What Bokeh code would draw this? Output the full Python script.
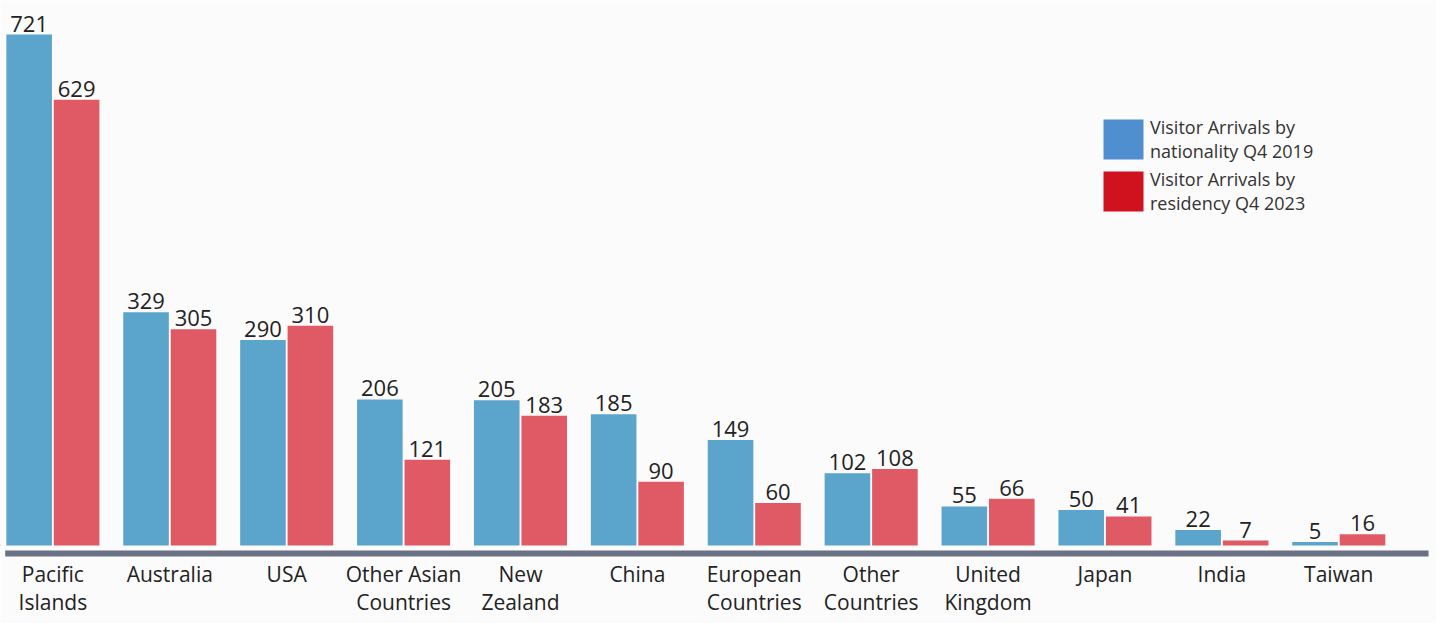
from bokeh.plotting import figure
from bokeh.models import ColumnDataSource, Legend, LegendItem, Range1d
from bokeh.core.properties import value
from bokeh.embed import file_html
from bokeh.resources import INLINE

categories = ["Pacific\nIslands", "Australia", "USA", "Other Asian\nCountries", "New\nZealand",
              "China", "European\nCountries", "Other\nCountries", "United\nKingdom",
              "Japan", "India", "Taiwan"]
q4_2019 = [721, 329, 290, 206, 205, 185, 149, 102, 55, 50, 22, 5]
q4_2023 = [629, 305, 310, 121, 183, 90, 60, 108, 66, 41, 7, 16]
series_names = ["Visitor Arrivals by\nnationality Q4 2019", "Visitor Arrivals by\nresidency Q4 2023"]

FONT = "Open Sans"
BLUE, RED = "#5ba4cb", "#e05a66"
LEG_BLUE, LEG_RED = "#4f8fd0", "#d0121f"
TXT = "#222222"

idx = list(range(len(categories)))
src = ColumnDataSource(dict(
    x1=[i - 0.203 for i in idx], x2=[i + 0.203 for i in idx],
    v1=q4_2019, v2=q4_2023,
    t1=[str(v) for v in q4_2019], t2=[str(v) for v in q4_2023],
))
AXIS_Y = -11.3
cat_src = ColumnDataSource(dict(x=idx, y=[-19.8] * len(idx), t=categories))

X0, X1 = -0.448, 11.836
p = figure(width=1436, height=623, output_backend="svg", toolbar_location=None,
           x_range=Range1d(X0, X1), y_range=Range1d(-110.1, 769.0),
           min_border=0)
p.background_fill_color = "#fbfbfb"
p.border_fill_color = "#fbfbfb"
p.outline_line_color = None
p.grid.visible = False
p.axis.visible = False

p.vbar(x="x1", top="v1", bottom=0, width=0.39, source=src, fill_color=BLUE, line_color=None)
p.vbar(x="x2", top="v2", bottom=0, width=0.39, source=src, fill_color=RED, line_color=None)

for xs, ts, ys in (("x1", "t1", "v1"), ("x2", "t2", "v2")):
    p.text(x=xs, y=ys, text=ts, source=src, text_align="center", text_baseline="bottom",
           y_offset=-3, text_font=value(FONT), text_font_size="22px", text_color=TXT)

# axis line
p.segment(x0=[X0 + 0.04], x1=[11.768], y0=[AXIS_Y], y1=[AXIS_Y],
          line_color="#6b7185", line_width=6)

# category labels
p.text(x="x", y="y", text="t", source=cat_src, text_align="center", text_baseline="top",
       text_font=value(FONT), text_font_size="21px", text_color=TXT, text_line_height=1.0)

d1 = p.vbar(x=[-100], top=[1], width=0.1, fill_color=LEG_BLUE, line_color=None)
d2 = p.vbar(x=[-100], top=[1], width=0.1, fill_color=LEG_RED, line_color=None)
legend = Legend(items=[LegendItem(label=series_names[0], renderers=[d1]),
                       LegendItem(label=series_names[1], renderers=[d2])],
                location=(1098, 407), glyph_width=50, glyph_height=50,
                label_text_font=FONT, label_text_font_size="18px", label_text_color="#333333",
                label_text_line_height=1.17,
                label_standoff=2, spacing=2, padding=0, margin=0,
                border_line_color=None, background_fill_alpha=0)
p.add_layout(legend, "center")

open("out.html", "w").write(file_html(p, INLINE))
